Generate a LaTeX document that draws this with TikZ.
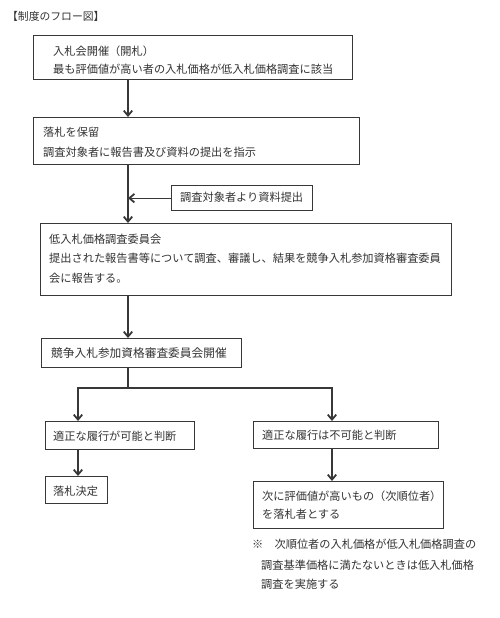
\documentclass[tikz,border=0pt]{standalone}
\usepackage{fontspec}
\setmainfont{Noto Sans CJK JP}
\usetikzlibrary{arrows.meta}
\definecolor{linec}{HTML}{383838}
\definecolor{textc}{HTML}{333333}
\begin{document}
\begin{tikzpicture}[x=1pt,y=-1pt,
  box/.style={draw=linec, line width=1.3pt, anchor=north west, inner sep=0pt},
  txt/.style={anchor=west, align=left, inner sep=0pt, text=textc, font=\fontsize{11.2}{19}\selectfont},
  arr/.style={draw=linec, line width=1.2pt, -{Straight Barb[length=5pt,width=8.5pt,line width=1.8pt]}},
  ln/.style={draw=linec, line width=1.2pt}]
\useasboundingbox[fill=white] (0,0) rectangle (500,618);

% boxes
\node[box, minimum width=319pt, minimum height=44pt] (b1) at (33,35) {};
\node[box, minimum width=326pt, minimum height=47pt] (b2) at (33,117) {};
\node[box, minimum width=141pt, minimum height=25pt] (side) at (171,185) {};
\node[box, minimum width=411pt, minimum height=72pt] (b3) at (40,223) {};
\node[box, minimum width=200pt, minimum height=29pt] (b4) at (41,338) {};
\node[box, minimum width=149pt, minimum height=28pt] (b5a) at (45,421) {};
\node[box, minimum width=185pt, minimum height=27pt] (b5b) at (253,421) {};
\node[box, minimum width=62pt, minimum height=27pt] (b6a) at (45,476) {};
\node[box, minimum width=190pt, minimum height=47pt] (b6b) at (253,481) {};

% texts
\node[txt, font=\fontsize{10.8}{19}\selectfont] (title) at (7,16) {【制度のフロー図】};
\node[txt, font=\fontsize{11.2}{18}\selectfont] (t1) at (53,60) {入札会開催（開札）\\最も評価値が高い者の入札価格が低入札価格調査に該当};
\node[txt, font=\fontsize{11.2}{20}\selectfont] (t2) at (43,142) {落札を保留\\調査対象者に報告書及び資料の提出を指示};
\node[txt] (tside) at (180,197) {調査対象者より資料提出};
\node[txt, font=\fontsize{11.2}{19.5}\selectfont] (t3) at (49,258.5) {低入札価格調査委員会\\提出された報告書等について調査、審議し、結果を競争入札参加資格審査委員\\会に報告する。};
\node[txt, font=\fontsize{11.7}{19}\selectfont] (t4) at (51,353) {競争入札参加資格審査委員会開催};
\node[txt] (t5a) at (53,436) {適正な履行が可能と判断};
\node[txt] (t5b) at (262,435) {適正な履行は不可能と判断};
\node[txt] (t6a) at (53,491) {落札決定};
\node[txt, font=\fontsize{11.2}{18}\selectfont] (t6b) at (262,505) {次に評価値が高いもの（次順位者）\\を落札者とする};
\node[txt] (n1) at (252,544) {※　次順位者の入札価格が低入札価格調査の};
\node[txt] (n2) at (261,565) {調査基準価格に満たないときは低入札価格};
\node[txt] (n3) at (261,584) {調査を実施する};

% connectors
\coordinate (mx) at (128,0);
\coordinate (br) at (128,388);
\coordinate (lx) at (78,388);
\coordinate (rx) at (332,388);
\draw[arr] (b1.south -| mx) -- (b2.north -| mx);
\draw[arr] (b2.south -| mx) -- (b3.north -| mx);
\draw[arr] (side.west) -- (side.west -| mx);
\draw[arr] (b3.south -| mx) -- (b4.north -| mx);
\draw[ln] (b4.south -| mx) -- (br);
\draw[arr] (br) -| (b5a.north -| lx);
\draw[arr] (br) -| (b5b.north -| rx);
\draw[arr] (b5a.south -| lx) -- (b6a.north -| lx);
\draw[arr] (b5b.south -| rx) -- (b6b.north -| rx);
\end{tikzpicture}
\end{document}
